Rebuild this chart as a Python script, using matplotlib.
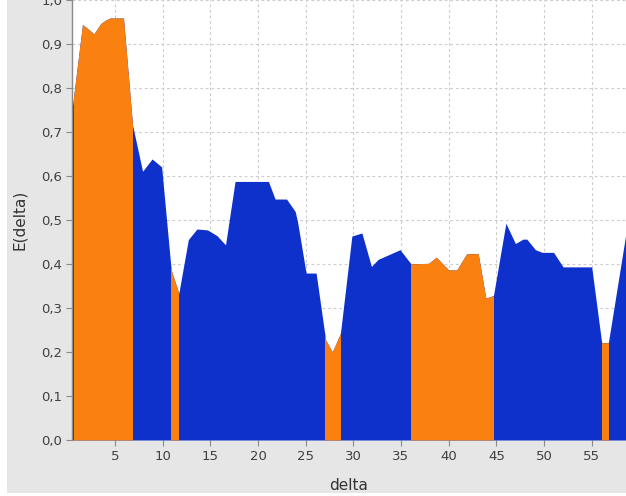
import matplotlib
matplotlib.use("Agg")
import matplotlib.pyplot as plt
from matplotlib.patches import Rectangle
from matplotlib.ticker import FuncFormatter, MultipleLocator

# E(delta) curve
delta = [0.5, 1.6, 1.8, 2.8, 3.5, 4.0, 4.5, 5.9, 6.85, 7.9, 8.9, 9.9,
         10.9, 11.7, 12.7, 13.6, 14.7, 15.7, 16.6, 17.6, 21.1, 21.8, 23.0,
         23.9, 24.15, 25.05, 26.1, 27.1, 27.8, 28.65, 29.85, 30.9, 31.9,
         32.6, 34.9, 36.05, 37.9, 38.7, 40.0, 40.85, 41.9, 43.1, 43.9, 44.7,
         46.0, 47.0, 47.8, 48.2, 49.1, 49.8, 51.0, 52.0, 55.0, 56.05, 56.75,
         58.6]
e_delta = [0.75, 0.943, 0.94, 0.922, 0.945, 0.953, 0.958, 0.958, 0.715,
           0.61, 0.638, 0.62, 0.386, 0.333, 0.455, 0.479, 0.477, 0.464,
           0.443, 0.587, 0.587, 0.547, 0.547, 0.519, 0.496, 0.379, 0.379,
           0.227, 0.2, 0.242, 0.463, 0.47, 0.394, 0.41, 0.432, 0.4, 0.401,
           0.415, 0.386, 0.386, 0.423, 0.423, 0.322, 0.328, 0.492, 0.446,
           0.456, 0.456, 0.432, 0.426, 0.426, 0.393, 0.393, 0.221, 0.221,
           0.47]

# delta intervals drawn in orange
orange_spans = [(0.7, 6.82), (10.91, 11.66), (27.08, 28.65),
                (36.09, 44.69), (56.05, 56.74)]

blue = "#0E31CC"
orange = "#FA800F"
bg = "#E6E6E6"

fig = plt.figure(figsize=(6.26, 4.96), dpi=100)
fig.patch.set_facecolor("white")
fig.patches.append(Rectangle((7 / 626, 3 / 496), 1, 1, transform=fig.transFigure,
                             facecolor=bg, edgecolor="none", zorder=-10))

ax = fig.add_axes([72 / 626, 56 / 496, 1 - 72 / 626, 1 - 56 / 496 + 0.001])
ax.set_facecolor("white")

ax.fill_between(delta, e_delta, 0, color=blue, lw=0, zorder=2)
for a, b in orange_spans:
    poly = ax.fill_between(delta, e_delta, 0, color=orange, lw=0, zorder=3)
    clip = Rectangle((a, 0), b - a, 1.2, transform=ax.transData)
    poly.set_clip_path(clip)

ax.set_xlim(0.5, 58.6)
ax.set_ylim(0, 1.0)
ax.xaxis.set_major_locator(MultipleLocator(5))
ax.yaxis.set_major_locator(MultipleLocator(0.1))
ax.yaxis.set_major_formatter(FuncFormatter(lambda v, p: f"{v:.1f}".replace(".", ",")))
ax.xaxis.set_major_formatter(FuncFormatter(lambda v, p: f"{v:.0f}"))

ax.grid(True, color="#CCCCCC", linestyle=(0, (2.5, 2.5)), linewidth=0.8, zorder=0)
ax.set_axisbelow(True)

for s in ["top", "right", "bottom"]:
    ax.spines[s].set_visible(False)
ax.spines["left"].set_color("#8A8A8A")
ax.spines["left"].set_linewidth(1.0)

ax.tick_params(axis="both", direction="out", length=4, width=0.8,
               color="#8A8A8A", labelcolor="#404040", labelsize=9.5, pad=3)

ax.set_xlabel("delta", fontsize=11, color="#333333", labelpad=11)
ax.set_ylabel("E(delta)", fontsize=11, color="#333333", labelpad=10)

fig.savefig("out.png", dpi=100, facecolor=fig.get_facecolor())
